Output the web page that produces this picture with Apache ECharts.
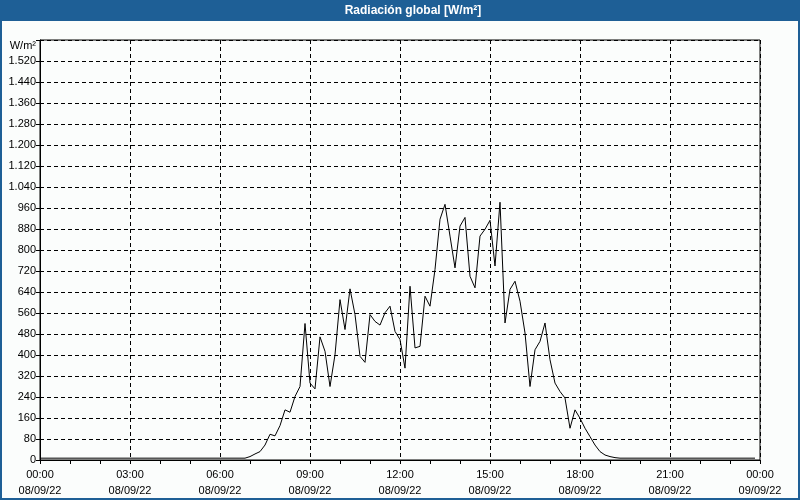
<!DOCTYPE html>
<html>
<head>
<meta charset="utf-8">
<script src="https://cdn.jsdelivr.net/npm/echarts@6/dist/echarts.min.js"></script>
<style>
html,body{margin:0;padding:0;background:#fbfdfc;}
#c{width:800px;height:500px;}
</style>
</head>
<body>
<div id="c"></div>
<script>
// Sampling: one value every 10 minutes starting 00:00 on 08/09/22
var stepMinutes = 10;
var dateLabels = { start: '08/09/22', end: '09/09/22' };
var titleText = 'Radiación global [W/m²]';
var unitText = 'W/m²';

// Night (00:00 - 06:50)
var nightMorning = [7,7,7,7,7,7,7,7,7,7,7,7,7,7,7,7,7,7,7,7,7,7,7,7,7,7,7,7,7,7,7,7,7,7,7,7,7,7,7,7,7,7];
// Day (07:00 - 19:10)
var daytime = [13,23,32,57,98,92,131,191,182,242,280,520,293,271,469,414,280,401,611,497,
  652,554,395,372,554,528,514,561,586,490,459,350,662,427,433,624,586,726,917,974,
  853,732,891,924,700,656,853,879,913,739,982,522,650,681,605,484,280,420,452,522,
  382,293,261,236,121,191,159,121,89,57,32,19,13,9];
// Night (19:20 - 23:50)
var nightEvening = [7,7,7,7,7,7,7,7,7,7,7,7,7,7,7,7,7,7,7,7,7,7,7,7,7,7,7,7];

var values = nightMorning.concat(daytime, nightEvening);
var seriesData = values.map(function(v, i){ return [i * stepMinutes, v]; });

function pad(n){ return (n < 10 ? '0' : '') + n; }
function fmtThousands(v){
  var s = String(v);
  return s.length > 3 ? s.slice(0, s.length - 3) + '.' + s.slice(s.length - 3) : s;
}

var chart = echarts.init(document.getElementById('c'), null, {renderer: 'canvas'});
var font = 'Liberation Sans';
chart.setOption({
  backgroundColor: '#fbfdfc',
  animation: false,
  graphic: [
    { type: 'rect', shape: {x: 0, y: 0, width: 800, height: 21}, style: {fill: '#1e5f96'}, z: 10 },
    { type: 'rect', shape: {x: 1, y: 1, width: 798, height: 498}, style: {fill: 'none', stroke: '#1e5f96', lineWidth: 2}, z: 10 },
    { type: 'text', x: 413, y: 11, style: {text: titleText, fill: '#ffffff', font: 'bold 12px ' + font, textAlign: 'center', textVerticalAlign: 'middle'}, z: 11 },
    { type: 'text', x: 36, y: 46, style: {text: unitText, fill: '#000000', font: '11px ' + font, textAlign: 'right', textVerticalAlign: 'middle'}, z: 11 }
  ],
  grid: { left: 40, right: 40, top: 40, bottom: 40, show: true, borderColor: '#000', borderWidth: 1, backgroundColor: 'transparent' },
  xAxis: {
    type: 'value', min: 0, max: 1440, interval: 180,
    axisLine: { show: true, lineStyle: { color: '#000', width: 1 } },
    axisTick: { show: true, length: 4, lineStyle: { color: '#000' } },
    minorTick: { show: true, splitNumber: 3, length: 4, lineStyle: { color: '#000' } },
    splitLine: { show: true, lineStyle: { color: '#000', type: [4, 3], width: 1 } },
    axisLabel: {
      color: '#000', fontFamily: font, fontSize: 11, margin: 7, lineHeight: 16,
      showMinLabel: true, showMaxLabel: true,
      formatter: function(v){
        var h = Math.floor(v / 60) % 24, m = v % 60;
        return pad(h) + ':' + pad(m) + '\n' + (v >= 1440 ? dateLabels.end : dateLabels.start);
      }
    }
  },
  yAxis: {
    type: 'value', min: 0, max: 1600, interval: 80,
    axisLine: { show: true, lineStyle: { color: '#000', width: 1 } },
    axisTick: { show: true, length: 4, lineStyle: { color: '#000' } },
    splitLine: { show: true, lineStyle: { color: '#000', type: [4, 3], width: 1 } },
    axisLabel: {
      color: '#000', fontFamily: font, fontSize: 11, margin: 4,
      formatter: function(v){ return v >= 1600 ? '' : fmtThousands(v); }
    }
  },
  series: [{
    type: 'line', data: seriesData, showSymbol: false, symbol: 'none',
    lineStyle: { color: '#000', width: 1 }, smooth: false
  }]
});
</script>
</body>
</html>
